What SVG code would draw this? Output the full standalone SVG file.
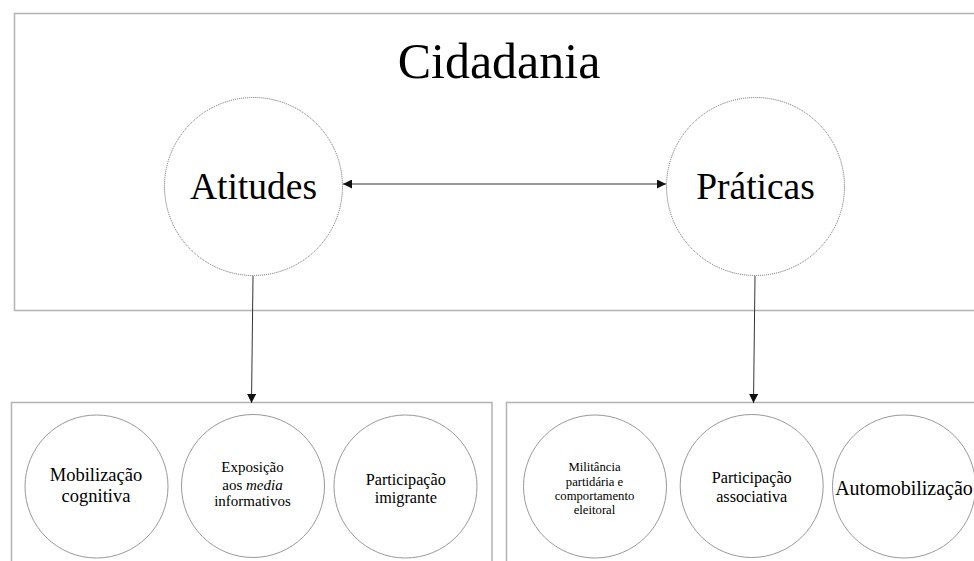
<svg xmlns="http://www.w3.org/2000/svg" width="974" height="561" viewBox="0 0 974 561">
<defs>
<style>
.box{fill:none;stroke:#b3b3b3;stroke-width:1.5}
.big{fill:#fff;stroke:#666;stroke-width:1;stroke-dasharray:1 1}
.small{fill:#fff;stroke:#999;stroke-width:1}
.t{font-family:"Liberation Serif","Times New Roman",serif;fill:#000;text-anchor:middle}
.conn{stroke:#333;stroke-width:1;fill:none}
</style>
<marker id="ah" viewBox="0 0 10 10" refX="10" refY="5" markerWidth="9" markerHeight="9" markerUnits="userSpaceOnUse" orient="auto-start-reverse">
<path d="M0,0 L10,5 L0,10 Z" fill="#111"/>
</marker>
</defs>
<rect width="974" height="561" fill="#fff"/>
<g id="cidadania">
<rect class="box" x="14.5" y="13.5" width="970" height="297"/>
<text class="t" x="499" y="78" font-size="50">Cidadania</text>
</g>
<g id="atitudes-grupo">
<rect class="box" x="11.5" y="402.5" width="480.5" height="170"/>
</g>
<g id="praticas-grupo">
<rect class="box" x="506.5" y="402.5" width="480" height="170"/>
</g>
<g id="connectors">
<line class="conn" x1="343" y1="184" x2="666" y2="184" marker-start="url(#ah)" marker-end="url(#ah)"/>
<line class="conn" x1="253" y1="276" x2="251.5" y2="403" marker-end="url(#ah)"/>
<line class="conn" x1="755" y1="276" x2="753.5" y2="403" marker-end="url(#ah)"/>
</g>
<g id="atitudes">
<circle class="big" cx="253.5" cy="186.5" r="89"/>
<text class="t" x="253.5" y="199" font-size="37.5">Atitudes</text>
</g>
<g id="praticas">
<circle class="big" cx="755.5" cy="186.5" r="89"/>
<text class="t" x="755.5" y="199" font-size="37.5">Práticas</text>
</g>
<g id="mobilizacao">
<circle class="small" cx="96.5" cy="486.5" r="71.5"/>
<text class="t" font-size="18.5"><tspan x="96" y="481">Mobilização</tspan><tspan x="96" y="502">cognitiva</tspan></text>
</g>
<g id="exposicao">
<circle class="small" cx="253" cy="486" r="71.5"/>
<text class="t" font-size="15"><tspan x="252.5" y="472">Exposição</tspan><tspan x="252.5" y="490">aos <tspan font-style="italic">media</tspan></tspan><tspan x="252.5" y="506">informativos</tspan></text>
</g>
<g id="imigrante">
<circle class="small" cx="405.5" cy="486.5" r="71.5"/>
<text class="t" font-size="16.2"><tspan x="405.8" y="485">Participação</tspan><tspan x="405.8" y="503">imigrante</tspan></text>
</g>
<g id="militancia">
<circle class="small" cx="595" cy="486.5" r="71.5"/>
<text class="t" font-size="12.7"><tspan x="594.5" y="471">Militância</tspan><tspan x="594.5" y="486">partidária e</tspan><tspan x="594.5" y="500">comportamento</tspan><tspan x="594.5" y="514">eleitoral</tspan></text>
</g>
<g id="associativa">
<circle class="small" cx="751.7" cy="486" r="71.5"/>
<text class="t" font-size="16.2"><tspan x="751.7" y="483">Participação</tspan><tspan x="751.7" y="502">associativa</tspan></text>
</g>
<g id="automobilizacao">
<circle class="small" cx="904" cy="486.5" r="71.5"/>
<text class="t" x="904" y="495" font-size="20">Automobilização</text>
</g>
</svg>
